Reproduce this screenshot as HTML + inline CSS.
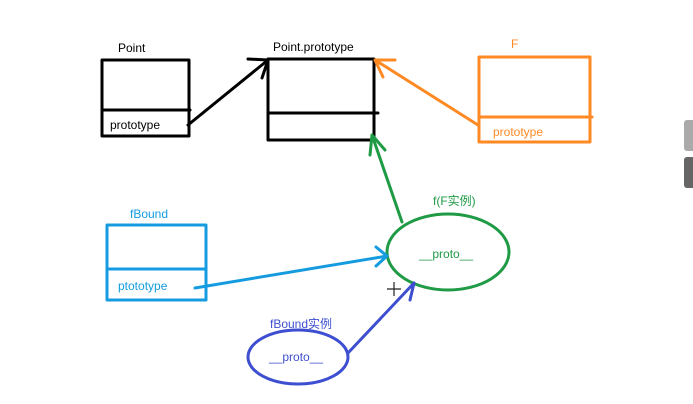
<!DOCTYPE html>
<html><head><style>body{margin:0;background:#fff;}svg{display:block}</style></head><body>
<svg width="693" height="404" xmlns="http://www.w3.org/2000/svg" font-family="Liberation Sans, 'Noto Sans CJK SC', sans-serif" font-size="12">
<rect width="693" height="404" fill="#fff"/>
<g fill="none" stroke-width="3" stroke-linecap="round" stroke-linejoin="round">
<rect x="102" y="60" width="87" height="76" stroke="#000"/>
<line x1="102" y1="110" x2="190" y2="110" stroke="#000"/>
<rect x="268" y="59" width="106" height="81" stroke="#000"/>
<line x1="268" y1="113" x2="378" y2="113" stroke="#000"/>
<rect x="479" y="57" width="111" height="85" stroke="#ff8a24"/>
<line x1="479" y1="117" x2="592" y2="117" stroke="#ff8a24"/>
<rect x="107" y="225" width="99" height="75" stroke="#149be0"/>
<line x1="107" y1="269" x2="206" y2="269" stroke="#149be0"/>
<ellipse cx="448" cy="252" rx="61" ry="38" stroke="#1f9a45"/>
<ellipse cx="298" cy="357" rx="50" ry="27" stroke="#3d4fd0"/>
<path d="M188 125 L268 60 M248 59 L268 60 L262 78" stroke="#000"/>
<path d="M478 125 L375 60 M395 60 L375 60 L383 77" stroke="#ff8a24"/>
<path d="M402 222 L372 135 M370 155 L372 135 L385 150" stroke="#1f9a45"/>
<path d="M195 288 L387 256 M376 247 L387 256 L376 266" stroke="#149be0"/>
<path d="M348 353 L414 283 M414 283 L410 300" stroke="#3d4fd0"/>
</g>
<path d="M394 282v14M387 289h14" stroke="#222" stroke-width="1.2"/>
<text x="118" y="52" fill="#000">Point</text>
<text x="110" y="129" fill="#000">prototype</text>
<text x="273" y="51" fill="#000">Point.prototype</text>
<text x="511" y="48" fill="#ff8a24">F</text>
<text x="493" y="136" fill="#ff8a24">prototype</text>
<text x="130" y="218" fill="#149be0">fBound</text>
<text x="118" y="290" fill="#149be0">ptototype</text>
<text x="433" y="205" fill="#1f9a45">f(F实例)</text>
<text x="419" y="258" fill="#1f9a45">__proto__</text>
<text x="270" y="328" fill="#3d4fd0">fBound实例</text>
<text x="269" y="361" fill="#3d4fd0">__proto__</text>
<rect x="684" y="120" width="12" height="31" rx="3" fill="#aaa"/>
<rect x="684" y="157" width="12" height="31" rx="3" fill="#666"/>
</svg>
</body></html>
